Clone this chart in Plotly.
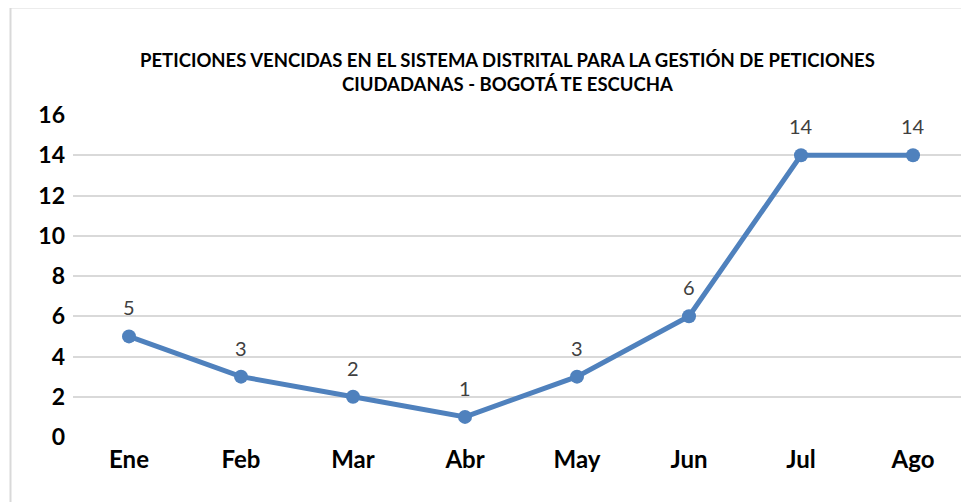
import plotly.graph_objects as go

months = ["Ene", "Feb", "Mar", "Abr", "May", "Jun", "Jul", "Ago"]
values = [5, 3, 2, 1, 3, 6, 14, 14]
y_ticks = [0, 2, 4, 6, 8, 10, 12, 14, 16]
title_lines = ["PETICIONES VENCIDAS EN EL SISTEMA DISTRITAL PARA LA GESTIÓN DE PETICIONES",
               "CIUDADANAS - BOGOTÁ TE ESCUCHA"]

OFF = 8  # page body margin
W, H = 969, 502
L, R, T, B = 73 - OFF, OFF, 115 - OFF, H - (437 - OFF)
pw, ph = W - L - R, H - T - B

fig = go.Figure()
fig.add_trace(go.Scatter(
    x=months, y=values, mode="lines+markers",
    line=dict(color="#4F81BD", width=5),
    marker=dict(color="#4F81BD", size=14),
    cliponaxis=False, hoverinfo="skip",
))

for m, v in zip(months, values):
    fig.add_annotation(x=m, y=v, text=str(v), showarrow=False,
                       yanchor="middle", yshift=29,
                       font=dict(family="Lato", size=20, color="#404040"))

fig.update_layout(
    width=W, height=H,
    margin=dict(l=L, r=R, t=T, b=B),
    paper_bgcolor="white", plot_bgcolor="white",
    showlegend=False,
    font=dict(family="Lato", color="black"),
    xaxis=dict(type="category", range=[-0.5, 7.5], showgrid=False, zeroline=False,
               showline=False, ticks="", tickfont=dict(family="Lato", size=24, color="black", weight="bold"),
               ticklabelstandoff=6),
    yaxis=dict(range=[0, 16], tickvals=y_ticks, showgrid=True, gridcolor="#D9D9D9", gridwidth=1.5,
               zeroline=False, showline=False, ticks="",
               tickfont=dict(family="Lato", size=23, color="black", weight="bold"),
               ticklabelstandoff=7),
)

fig.add_annotation(
    text="<br>".join(title_lines), xref="paper", yref="paper",
    x=(507 - 73) / pw, y=(437 - 72) / ph, xanchor="center", yanchor="middle",
    showarrow=False, align="center",
    font=dict(family="Lato", size=18.5, color="black", weight="bold"),
)

fig.add_shape(type="rect", xref="paper", yref="paper",
              x0=(10.5 - 73) / pw, x1=(W + 20 - 73) / pw,
              y0=(437 - (H + 20)) / ph, y1=(437 - 7.5) / ph,
              line=dict(color="#D9D9D9", width=2), layer="below")

fig.write_html("out.html")
